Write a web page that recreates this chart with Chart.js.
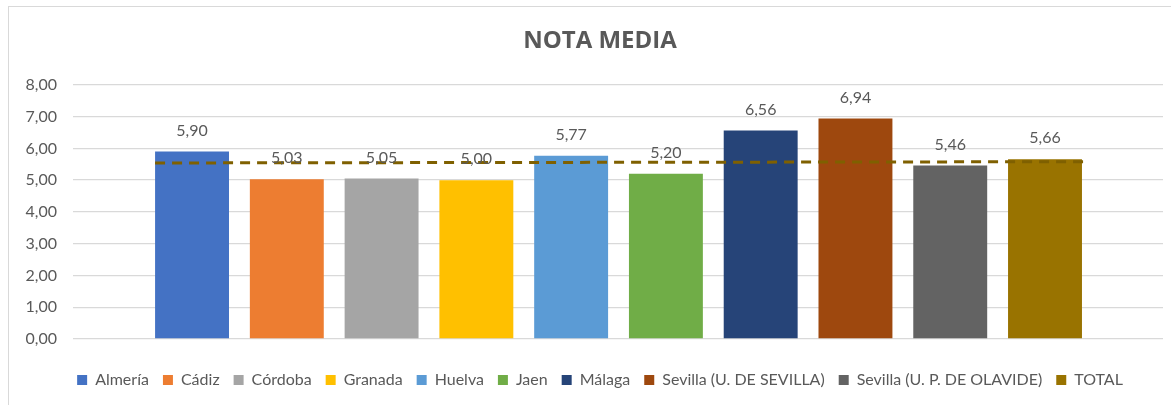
<!DOCTYPE html>
<html>
<head>
<meta charset="utf-8">
<script src="https://cdn.jsdelivr.net/npm/chart.js@4.4.0/dist/chart.umd.min.js"></script>
<style>
    html, body { margin: 0; padding: 0; background: #ffffff; overflow: hidden; }
    .frame {
        position: absolute; left: 8px; top: 6px; width: 1300px; height: 500px;
        border: 1px solid #d9d9d9; box-sizing: border-box;
    }
    .wrap { position: absolute; left: 0; top: 0; width: 1171px; height: 405px; }
</style>
</head>
<body>
<div class="frame"></div>
<div class="wrap"><canvas id="notaChart"></canvas></div>
<script>
    // data
    const universidades = ['Almería', 'Cádiz', 'Córdoba', 'Granada', 'Huelva', 'Jaen', 'Málaga',
        'Sevilla (U. DE SEVILLA)', 'Sevilla (U. P. DE OLAVIDE)', 'TOTAL'];
    const notas = [5.90, 5.03, 5.05, 5.00, 5.77, 5.20, 6.56, 6.94, 5.46, 5.66];
    const colores = ['#4472C4', '#ED7D31', '#A5A5A5', '#FFC000', '#5B9BD5', '#70AD47', '#264478',
        '#9E480E', '#636363', '#997300'];
    const yTicks = [0, 1, 2, 3, 4, 5, 6, 7, 8];
    // dashed trend line: value at the first bar and at the last bar
    const tendenciaInicio = 5.54;
    const tendenciaFin = 5.58;

    const fmt = v => v.toFixed(2).replace('.', ',');
    const gris = '#595959';
    const fuente = "'Lato', sans-serif";

    // value labels above bars + y axis tick labels
    const etiquetas = {
        id: 'etiquetas',
        afterDatasetsDraw(chart) {
            const ctx = chart.ctx;
            ctx.save();
            ctx.font = '16px ' + fuente;
            ctx.fillStyle = gris;
            ctx.textAlign = 'center';
            ctx.textBaseline = 'middle';
            chart.data.datasets.forEach((ds, i) => {
                if (ds.type === 'line') return;
                const meta = chart.getDatasetMeta(i);
                meta.data.forEach((bar, j) => {
                    ctx.fillText(fmt(ds.data[j].y), bar.x, bar.y - 21);
                });
            });

            // y labels drawn here so they are not clipped to the narrow axis box
            const y = chart.scales.y;
            ctx.textAlign = 'right';
            yTicks.forEach(v => {
                ctx.fillText(fmt(v), chart.chartArea.left - 16, y.getPixelForValue(v));
            });
            ctx.restore();
        }
    };

    // one dataset per university so every bar gets its own legend entry
    const datasets = universidades.map((u, i) => ({
        label: u,
        data: [{ x: i, y: notas[i] }],
        backgroundColor: colores[i],
        grouped: false,
        categoryPercentage: 1,
        barPercentage: 0.78,
        order: 2
    }));

    datasets.push({
        type: 'line',
        label: 'tendencia',
        data: [{ x: -0.39, y: tendenciaInicio }, { x: 9.42, y: tendenciaFin }],
        borderColor: '#7F6000',
        borderWidth: 3,
        borderDash: [10, 7],
        pointRadius: 0,
        fill: false,
        order: 1
    });

    Chart.defaults.font.family = fuente;
    Chart.defaults.color = gris;

    new Chart(document.getElementById('notaChart'), {
        type: 'bar',
        data: { datasets: datasets },
        options: {
            responsive: true,
            maintainAspectRatio: false,
            animation: false,
            layout: { padding: { top: 12, left: 37, right: 8, bottom: 7 } },
            plugins: {
                title: {
                    display: true,
                    text: 'NOTA MEDIA',
                    color: gris,
                    font: { size: 24, weight: 'bold', family: "'Open Sans', sans-serif" },
                    padding: { top: 15, bottom: 29 }
                },
                legend: {
                    position: 'bottom',
                    labels: {
                        boxWidth: 10,
                        boxHeight: 10,
                        padding: 14,
                        color: gris,
                        font: { size: 16 },
                        filter: item => item.text !== 'tendencia'
                    }
                },
                tooltip: { enabled: false }
            },
            scales: {
                x: {
                    type: 'linear',
                    min: -1.256,
                    max: 10.245,
                    offset: false,
                    afterFit: function(scale) { scale.height = 19; },
                    grid: { display: false },
                    border: { display: false },
                    ticks: { display: false }
                },
                y: {
                    min: 0,
                    max: 8,
                    afterFit: function(scale) { scale.width = 36; },
                    afterBuildTicks: function(scale) { scale.ticks = yTicks.map(v => ({ value: v })); },
                    grid: { color: '#d9d9d9', lineWidth: 1.3, drawTicks: false },
                    border: { display: false },
                    ticks: { display: false }
                }
            }
        },
        plugins: [etiquetas]
    });
</script>
</body>
</html>
